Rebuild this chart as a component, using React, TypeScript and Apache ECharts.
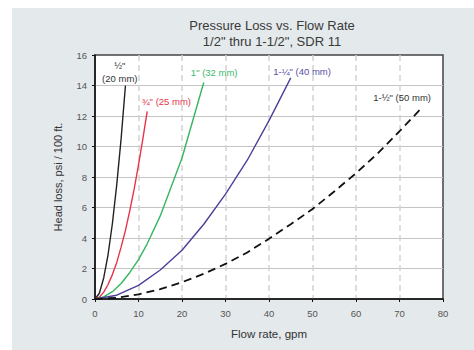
import React, { useEffect, useRef } from "react";
import * as echarts from "echarts";

const titleLines = ["Pressure Loss vs. Flow Rate", "1/2\" thru 1-1/2\", SDR 11"];
const xTitle = "Flow rate, gpm";
const yTitle = "Head loss, psi / 100 ft.";

const pipeNames = ["½\"\n(20 mm)", "¾\" (25 mm)", "1\" (32 mm)", "1-¼\" (40 mm)", "1-½\" (50 mm)"];
const pipeColors = ["#222222", "#e8334a", "#35b560", "#4b3f9a", "#111111"];
const labelColors = ["#333333", "#e8334a", "#3cb86a", "#5a4fa6", "#333333"];

// [flow gpm, head loss psi/100ft]
const half: number[][] = [[0, 0], [1, 0.38], [2, 1.38], [3, 2.9], [4, 4.95], [5, 7.5], [6, 10.5], [7, 14.0]];
const threeQuarter: number[][] = [[0, 0], [1, 0.12], [2, 0.45], [3, 0.95], [4, 1.6], [5, 2.4], [6, 3.4], [7, 4.5], [8, 5.8], [9, 7.2], [10, 8.8], [11, 10.5], [12, 12.3]];
const one: number[][] = [[0, 0], [2, 0.14], [4, 0.48], [6, 1.02], [8, 1.74], [10, 2.58], [12, 3.62], [15, 5.45], [20, 9.25], [25, 14.2]];
const oneQuarter: number[][] = [[0, 0], [5, 0.25], [10, 0.89], [15, 1.9], [20, 3.2], [25, 4.9], [30, 6.88], [35, 9.1], [40, 11.7], [45, 14.5]];
const oneHalf: number[][] = [[0, 0], [5, 0.08], [10, 0.3], [15, 0.65], [20, 1.1], [25, 1.65], [30, 2.3], [35, 3.05], [40, 3.95], [45, 4.9], [50, 5.9], [55, 7.05], [60, 8.25], [65, 9.55], [70, 11.0], [75, 12.5]];
const seriesData = [half, threeQuarter, one, oneQuarter, oneHalf];

// label anchor points in data coordinates
const labelAt: number[][] = [[5.7, 14.87], [16.4, 12.98], [27.4, 14.84], [47.6, 14.92], [70.6, 13.22]];

const xTicks = [0, 80, 10];
const yTicks = [0, 16, 2];

const FONT = "'Liberation Sans', Arial, sans-serif";

export default function App() {
  const ref = useRef<HTMLDivElement>(null);
  useEffect(() => {
    if (!ref.current) return;
    const chart = echarts.init(ref.current, undefined, { renderer: "svg" });
    chart.setOption({
      animation: false,
      backgroundColor: "#ffffff",
      textStyle: { fontFamily: FONT },
      graphic: [
        {
          type: "rect",
          z: -10,
          silent: true,
          shape: { x: 12, y: 8, width: 462, height: 342 },
          style: { fill: "#e4e9eb" },
        },
      ],
      title: {
        text: titleLines.join("\n"),
        left: 272,
        textAlign: "center",
        top: 17,
        padding: 0,
        textStyle: { fontFamily: FONT, fontSize: 13, fontWeight: "normal", color: "#3a3a3a", lineHeight: 16 },
      },
      grid: {
        left: 95,
        right: 31,
        top: 55,
        bottom: 51,
        show: true,
        backgroundColor: "#ffffff",
        borderColor: "#444444",
        borderWidth: 1.5,
      },
      xAxis: {
        type: "value",
        min: xTicks[0],
        max: xTicks[1],
        interval: xTicks[2],
        name: xTitle,
        nameLocation: "middle",
        nameGap: 35,
        nameTextStyle: { fontFamily: FONT, fontSize: 11.5, color: "#333", verticalAlign: "middle" },
        axisLine: { lineStyle: { color: "#111", width: 1.5 } },
        axisTick: { show: true, length: 3, lineStyle: { color: "#111" } },
        axisLabel: { fontSize: 9.5, color: "#555", margin: 9, fontFamily: FONT },
        splitLine: { show: true, showMinLine: false, showMaxLine: false, lineStyle: { color: "#d4d4d4", width: 1.5, type: [6, 4] } },
      },
      yAxis: {
        type: "value",
        min: yTicks[0],
        max: yTicks[1],
        interval: yTicks[2],
        name: yTitle,
        nameLocation: "middle",
        nameGap: 37,
        nameRotate: 90,
        nameTextStyle: { fontFamily: FONT, fontSize: 11, color: "#333", verticalAlign: "middle" },
        axisLine: { show: true, lineStyle: { color: "#111", width: 1.5 } },
        axisTick: { show: true, length: 3, lineStyle: { color: "#111" } },
        axisLabel: { fontSize: 9.5, color: "#555", margin: 8, fontFamily: FONT },
        splitLine: { show: true, showMinLine: false, showMaxLine: false, lineStyle: { color: "#c4c4c4", width: 1 } },
      },
      series: seriesData.map((d, i) => ({
        type: "line",
        name: pipeNames[i],
        data: d,
        showSymbol: false,
        symbol: "none",
        smooth: false,
        lineStyle: {
          color: pipeColors[i],
          width: i === 4 ? 1.8 : 1.4,
          type: i === 4 ? [8, 5] : "solid",
        },
        markPoint: {
          symbol: "circle",
          symbolSize: 0,
          silent: true,
          label: {
            show: true,
            position: "inside",
            formatter: pipeNames[i],
            color: labelColors[i],
            fontSize: 9.5,
            fontFamily: FONT,
            lineHeight: 13,
          },
          data: [{ coord: labelAt[i] }],
        },
      })),
    });
    return () => chart.dispose();
  }, []);
  return <div ref={ref} style={{ position: "fixed", left: 0, top: 0, width: 474, height: 350 }} />;
}
